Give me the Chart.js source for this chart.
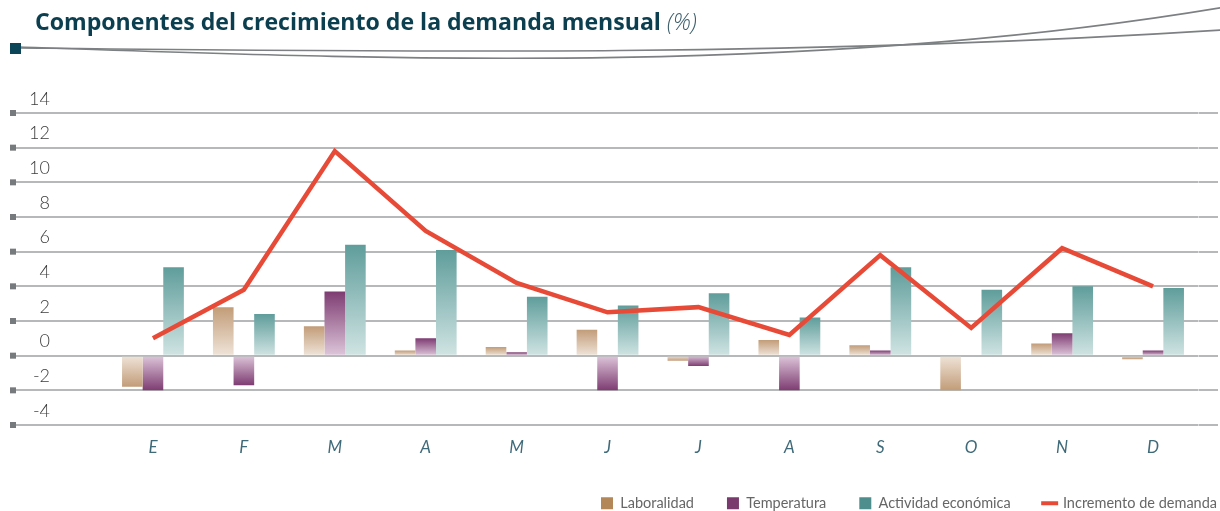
<!DOCTYPE html>
<html><head><meta charset="utf-8">
<script src="https://cdn.jsdelivr.net/npm/chart.js@4/dist/chart.umd.min.js"></script>
<style>
html,body{margin:0;padding:0;background:#fff;}
#wrap{position:relative;width:1220px;height:511px;overflow:hidden;}
#c{position:absolute;left:0;top:0;}
#title{position:absolute;left:35px;top:5px;font-family:"Open Sans",Lato,sans-serif;font-weight:700;font-size:23.1px;color:#0b3f4f;white-space:nowrap;}
#title span{font-style:italic;font-weight:300;color:#3d5f6c;}
</style></head><body>
<div id="wrap"><canvas id="c" width="1220" height="511"></canvas><div id="title">Componentes del crecimiento de la demanda mensual <span>(%)</span></div></div>
<script>
const months = ['E','F','M','A','M','J','J','A','S','O','N','D'];
const laboralidad = [-1.8, 2.8, 1.7, 0.3, 0.5, 1.5, -0.3, 0.9, 0.6, -2.0, 0.7, -0.2];
const temperatura = [-2.0, -1.7, 3.7, 1.0, 0.2, -2.0, -0.6, -2.0, 0.3, 0, 1.3, 0.3];
const actividad = [5.1, 2.4, 6.4, 6.1, 3.4, 2.9, 3.6, 2.2, 5.1, 3.8, 4.0, 3.9];
const incremento = [1.0, 3.8, 11.8, 7.2, 4.2, 2.5, 2.8, 1.2, 5.8, 1.6, 6.2, 4.0];
const seriesNames = ['Laboralidad','Temperatura','Actividad económica','Incremento de demanda'];
const yMin = -4, yMax = 14, yStep = 2;

const legendColors = ['#b38758','#7b3a6e','#4e8f8d','#e84a38'];
const gradDark = ['#c29c78','#7e3c72','#5f9d9b'];
const gradLight = ['#efe4d9','#ddc6da','#d0e4e3'];

function grad(i){
  return (ctx) => {
    const chart = ctx.chart;
    if (!chart.chartArea || ctx.type !== 'data') return gradDark[i];
    const y = chart.scales.y;
    const y0 = y.getPixelForValue(0), y1 = y.getPixelForValue(ctx.raw);
    if (Math.abs(y0 - y1) < 0.5) return gradDark[i];
    const g = chart.ctx.createLinearGradient(0, y1, 0, y0);
    g.addColorStop(0, gradDark[i]);
    g.addColorStop(1, gradLight[i]);
    return g;
  };
}

const decor = {
  id: 'decor',
  beforeDraw(chart){
    const c = chart.ctx; c.save();
    c.strokeStyle = '#7c8082'; c.lineWidth = 1.6;
    c.beginPath(); c.moveTo(20,47); c.bezierCurveTo(350,58,800,78,1222,7.5); c.stroke();
    c.beginPath(); c.moveTo(20,48); c.bezierCurveTo(400,52,800,57,1222,30); c.stroke();
    c.fillStyle = '#0c4558'; c.fillRect(10,43,11,11);
    c.restore();
  },
  afterDraw(chart){
    const c = chart.ctx, y = chart.scales.y; c.save();
    c.fillStyle = '#767a7d';
    y.ticks.forEach(t => { const py = y.getPixelForValue(t.value); c.fillRect(10, py - 3, 6, 6); });
    c.restore();
  }
};
const legendShift = {
  id: 'legendShift',
  afterLayout(chart){
    const l = chart.legend; if (!l) return;
    const dx = 32;
    l.left += dx; l.right += dx;
    l.top = 463; l.bottom = 511; l.height = 48;
  }
};

new Chart(document.getElementById('c'), {
  data: {
    labels: months,
    datasets: [
      {type:'bar', label: seriesNames[0], data: laboralidad, backgroundColor: grad(0), order: 1},
      {type:'bar', label: seriesNames[1], data: temperatura, backgroundColor: grad(1), order: 1},
      {type:'bar', label: seriesNames[2], data: actividad, backgroundColor: grad(2), order: 1},
      {type:'line', label: seriesNames[3], data: incremento, borderColor: legendColors[3], borderWidth: 4.5,
       pointRadius: 0, tension: 0, borderJoinStyle: 'miter', fill: false, order: 0}
    ]
  },
  options: {
    responsive: false, animation: false, devicePixelRatio: 1,
    layout: { padding: { top: 113, left: 10, right: 2, bottom: 0 } },
    datasets: { bar: { categoryPercentage: 0.68, barPercentage: 1, borderWidth: 0 } },
    scales: {
      x: {
        offset: true,
        grid: { display: false }, border: { display: false },
        ticks: { padding: 4, color: '#3f6a7a', font: { family: 'Lato', size: 17, style: 'italic' } },
        afterFit(s){ const lh = s.chart.legend ? s.chart.legend.height : 0; s.height = 511 - 425 - lh; }
      },
      y: {
        min: yMin, max: yMax,
        afterFit(s){ s.width = 97.5; },
        border: { display: false },
        grid: { color: '#b5b9b9', lineWidth: 2, tickLength: 97.5, tickColor: '#b5b9b9', tickWidth: 2 },
        ticks: { stepSize: yStep, padding: -40, labelOffset: -14, color: '#3c3c3c', font: { family: 'Lato', size: 18, weight: '300' } }
      },
      y2: {
        display: true, position: 'right', min: yMin, max: yMax,
        afterFit(s){ s.width = 19.5; },
        border: { display: false },
        grid: { drawOnChartArea: false, color: '#b5b9b9', lineWidth: 2, tickLength: 19.5, tickColor: '#b5b9b9', tickWidth: 2 },
        ticks: { display: false, stepSize: yStep }
      }
    },
    plugins: {
      tooltip: { enabled: false },
      legend: {
        position: 'bottom', align: 'end', maxHeight: 30,
        labels: {
          usePointStyle: true, boxWidth: 12, boxHeight: 12, padding: 33, color: '#666',
          font: { family: 'Lato', size: 14.5 },
          generateLabels(){
            return seriesNames.map((n,i) => ({
              text: n, fillStyle: legendColors[i], strokeStyle: legendColors[i],
              lineWidth: i === 3 ? 4 : 0, pointStyle: i === 3 ? 'line' : 'rect',
              hidden: false, datasetIndex: i, fontColor: '#666'
            }));
          }
        }
      }
    }
  },
  plugins: [decor, legendShift]
});
</script>
</body></html>
